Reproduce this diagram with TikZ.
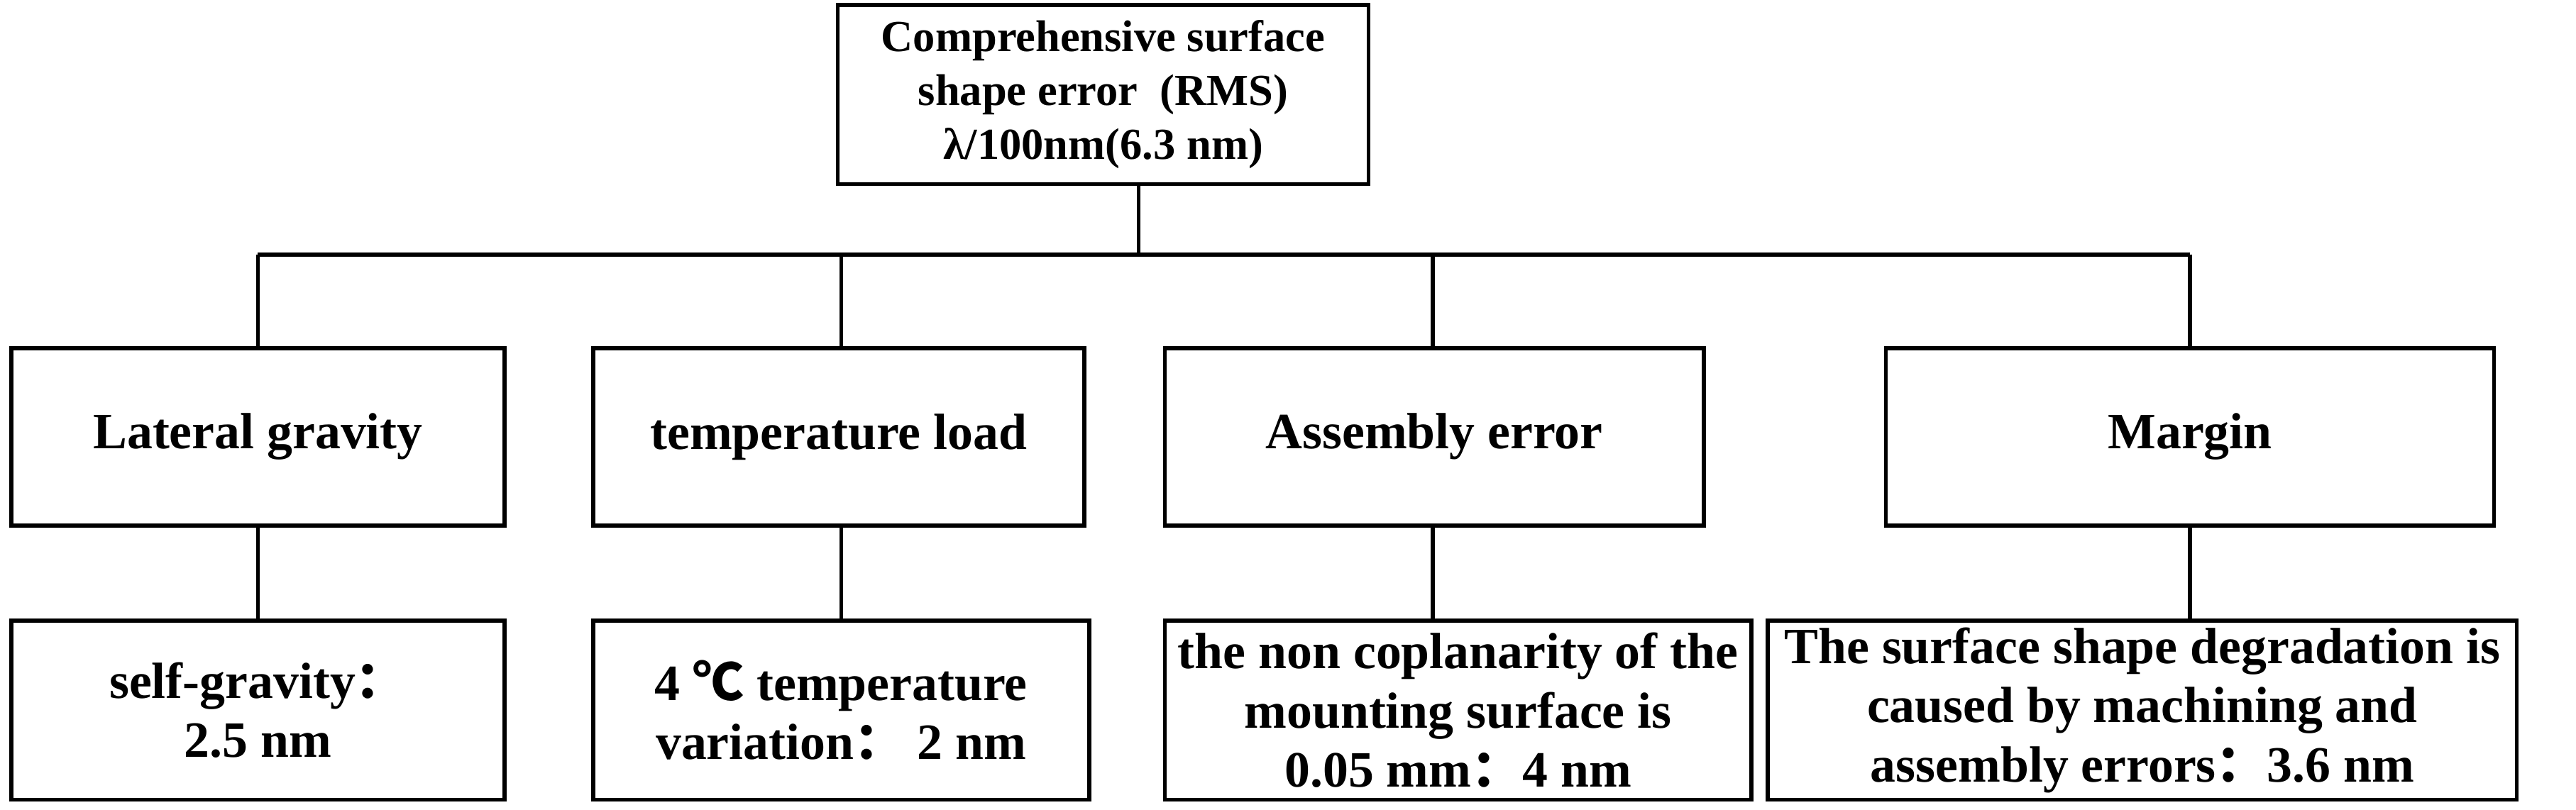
\documentclass[tikz,border=0pt]{standalone}
\usepackage{fontspec}
\setmainfont{Liberation Serif}
\newfontfamily\cjk{Noto Sans CJK SC}
\begin{document}
\begin{tikzpicture}[x=0.5pt,y=-0.5pt,
  bx/.style={draw,line width=1.2pt,align=center,font=\bfseries\fontsize{15.5}{18}\selectfont},
  ln/.style={line width=1.2pt}]
\useasboundingbox (0,0) rectangle (1568,493);
\newcommand{\bb}[7][]{\node[bx,#1,minimum width={(#4-#3)*0.5pt},minimum height={(#6-#5)*0.5pt},inner sep=1pt] (#2) at ({(#3+#4)/2},{(#5+#6)/2}) {#7};}
\bb[font=\bfseries\fontsize{13.5}{16.5}\selectfont]{top}{510}{833}{3}{112}{Comprehensive surface\\shape error\ \ (RMS)\\λ/100nm(6.3 nm)}
\bb{a}{7}{307}{212}{320}{Lateral gravity}
\bb{b}{361}{660}{212}{320}{temperature load}
\bb{c}{709}{1037}{212}{320}{Assembly error}
\bb{d}{1148}{1518}{212}{320}{Margin}
\bb{a2}{7}{307}{378}{487}{self-gravity{\cjk ：}\\2.5 nm}
\bb{b2}{361}{663}{378}{487}{4 {\cjk ℃} temperature\\variation{\cjk ：}\ 2 nm}
\bb{c2}{709}{1066}{378}{487}{the non coplanarity of the\\mounting surface is\\0.05 mm{\cjk ：}4 nm}
\bb{d2}{1076}{1532}{378}{487}{The surface shape degradation is\\caused by machining and\\assembly errors{\cjk ：}3.6 nm}
\coordinate (j) at (693,155);
\draw[ln] (693,112) -- (j);
\draw[ln] (157,155) -- (1333,155);
\draw[ln] (157,155) -- (157,212);
\draw[ln] (512,155) -- (512,212);
\draw[ln] (872,155) -- (872,212);
\draw[ln] (1333,155) -- (1333,212);
\draw[ln] (a.south) -- (a2.north);
\draw[ln] (512,320) -- (512,378);
\draw[ln] (872,320) -- (872,378);
\draw[ln] (1333,320) -- (1333,378);
\end{tikzpicture}
\end{document}
